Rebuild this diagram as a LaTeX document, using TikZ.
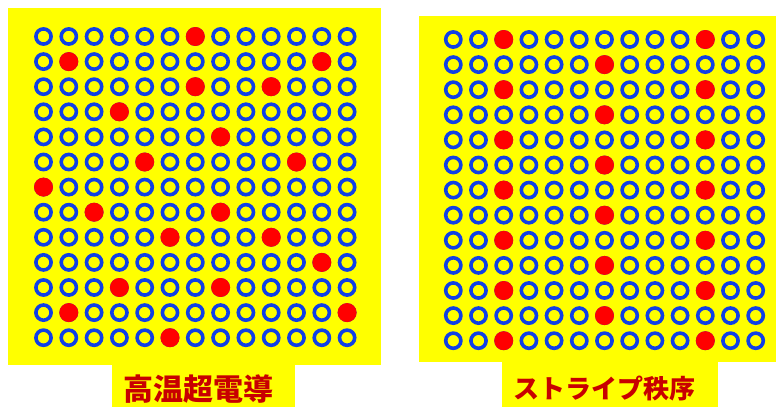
\documentclass[tikz,border=0pt]{standalone}
\usepackage{fontspec}
\newfontfamily\jpfont{Noto Sans CJK JP}
\definecolor{panelyellow}{RGB}{255,255,0}
\definecolor{ringblue}{RGB}{16,64,230}
\definecolor{dotred}{RGB}{255,0,0}
\definecolor{labelred}{RGB}{200,0,0}
\tikzset{
  ring/.style={draw=ringblue, line width=3.6pt},
  reddot/.style={fill=dotred},
  panel/.style={fill=panelyellow},
  label/.style={text=labelred, inner sep=0pt}
}
\begin{document}
\begin{tikzpicture}[x=1pt,y=-1pt]
\useasboundingbox (0,0) rectangle (778,407);
% panels
\fill[panel] (8,8) rectangle (381,365);
\fill[panel] (112,365) rectangle (295,407);
\fill[panel] (419,16) rectangle (776,362);
\fill[panel] (502,362) rectangle (718,407);
% left grid
\foreach \c in {0,...,12}{
  \foreach \r in {0,...,12}{
    \draw[ring] ({43.5+25.3*\c},{36.5+25.1*\r}) circle (7.6);
  }
}
\foreach \c/\r in {6/0,1/1,11/1,6/2,9/2,3/3,7/4,4/5,10/5,0/6,2/7,7/7,5/8,9/8,11/9,3/10,7/10,1/11,12/11,5/12}{
  \fill[reddot] ({43.5+25.3*\c},{36.5+25.1*\r}) circle (9.5);
}
% right grid
\foreach \c in {0,...,12}{
  \foreach \r in {0,...,12}{
    \draw[ring] ({453.3+25.2*\c},{39.5+25.1*\r}) circle (7.6);
  }
}
\foreach \r in {0,2,...,12}{
  \foreach \c in {2,10}{
    \fill[reddot] ({453.3+25.2*\c},{39.5+25.1*\r}) circle (9.5);
  }
}
\foreach \r in {1,3,...,11}{
  \fill[reddot] ({453.3+25.2*6},{39.5+25.1*\r}) circle (9.5);
}
% labels
\node[label, font=\jpfont\bfseries\fontsize{30}{30}\selectfont] (lefttitle) at (198,389.5) {高温超電導};
\node[label, font=\jpfont\bfseries\fontsize{26}{26}\selectfont] (righttitle) at (604.5,388.5) {ストライプ秩序};
\end{tikzpicture}
\end{document}
